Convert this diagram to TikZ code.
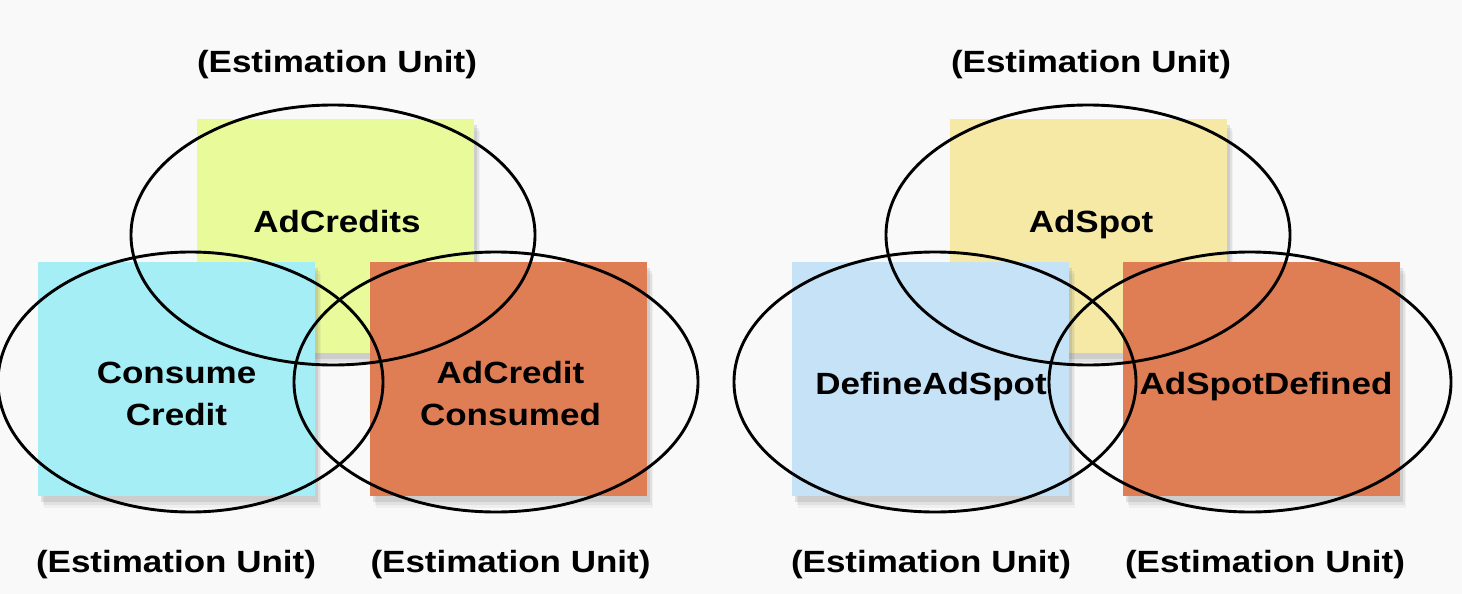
\documentclass[tikz,border=0pt]{standalone}
\usepackage{fontspec}
\setmainfont{Liberation Sans}[FakeStretch=1.14]
\usepackage{tikz}
\usetikzlibrary{shapes.geometric, shadows}

\definecolor{bgcol}{HTML}{F9F9F9}
\definecolor{limecol}{HTML}{E9FA9A}
\definecolor{cyancol}{HTML}{A5EEF6}
\definecolor{orangecol}{HTML}{DF7E55}
\definecolor{sandcol}{HTML}{F5E9A5}
\definecolor{skycol}{HTML}{C5E2F6}

\tikzset{
    card/.style={rectangle, minimum width=277pt, minimum height=234pt, inner sep=0pt,
        drop shadow={shadow xshift=6pt, shadow yshift=-12pt, opacity=0.08},
        drop shadow={shadow xshift=5pt, shadow yshift=-9pt, opacity=0.12},
        drop shadow={shadow xshift=3pt, shadow yshift=-6pt, opacity=0.2}},
    ring/.style={ellipse, draw=black, line width=2.9pt, inner sep=0pt},
    lbl/.style={font=\bfseries\fontsize{30.7}{42}\selectfont, inner sep=0pt, align=center}
}

\begin{document}
\begin{tikzpicture}[x=1pt, y=-1pt]
        \fill[bgcol] (0,0) rectangle (1462,594);
        \useasboundingbox (0,0) rectangle (1462,594);

        \node[card, fill=limecol] (credits) at (335.2,235.5) {};
        \node[card, fill=cyancol] (consume) at (176.8,379) {};
        \node[card, fill=orangecol] (consumed) at (508,379) {};

        \node[card, fill=sandcol] (spot) at (1088.8,235.5) {};
        \node[card, fill=skycol] (define) at (930.5,379) {};
        \node[card, fill=orangecol] (defined) at (1261.8,379) {};

        \node[lbl, anchor=base] (tcredits) at (337,232) {AdCredits};
        \node[lbl] (tconsume) at (176.5,393.5) {Consume\\Credit};
        \node[lbl] (tconsumed) at (510.5,393.5) {AdCredit\\Consumed};

        \node[lbl, anchor=base] (tspot) at (1091,232) {AdSpot};
        \node[lbl, anchor=base] (tdefine) at (931,394) {DefineAdSpot};
        \node[lbl, anchor=base] (tdefined) at (1266,394) {AdSpotDefined};

        \foreach \name/\x/\y in {ucredits/337/73, uconsume/176/572, uconsumed/510.5/572,
                                 uspot/1091/73, udefine/931/572, udefined/1265/572} {
            \node[lbl, anchor=base] (\name) at (\x,\y) {(Estimation Unit)};
        }

        \node[ring, minimum width=404pt, minimum height=260pt] (rcredits) at (333,235) {};
        \node[ring, minimum width=385pt, minimum height=260pt] (rconsume) at (190.5,382) {};
        \node[ring, minimum width=404pt, minimum height=260pt] (rconsumed) at (496,382) {};

        \node[ring, minimum width=404pt, minimum height=260pt] (rspot) at (1088,235) {};
        \node[ring, minimum width=402pt, minimum height=260pt] (rdefine) at (935,382) {};
        \node[ring, minimum width=402pt, minimum height=260pt] (rdefined) at (1250,382) {};
    \end{tikzpicture}
\end{document}
